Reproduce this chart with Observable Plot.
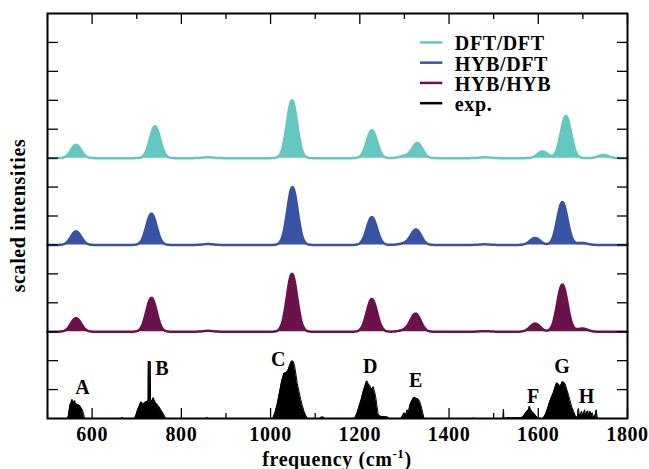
<!DOCTYPE html>
<html><head><meta charset="utf-8">
<script src="https://cdn.jsdelivr.net/npm/d3@7"></script>
<script src="https://cdn.jsdelivr.net/npm/@observablehq/plot@0.6"></script>
<style>
body{margin:0;background:#fff}
#chart svg text{letter-spacing:0.6px}
</style>
</head><body><div id="chart"></div>
<script>
// ---- data ----
const seriesNames = ["DFT/DFT", "HYB/DFT", "HYB/HYB", "exp."];
const seriesColors = ["#64c8c0", "#3953a4", "#6a1249", "#000000"];
const seriesOffsets = [9, 6, 3, 0];

// computed stick spectra (peak position in cm^-1, scaled intensity)
const dftdftFreq = [564, 741, 860, 1048, 1227, 1300, 1329, 1480, 1610, 1662, 1746];
const dftdftInt  = [0.46, 1.10, 0.03, 2.0, 0.97, 0.07, 0.52, 0.03, 0.23, 1.46, 0.11];
const hybdftFreq = [564, 733, 860, 1049, 1227, 1300, 1326, 1480, 1593, 1654, 1698];
const hybdftInt  = [0.47, 1.08, 0.03, 2.0, 0.96, 0.05, 0.53, 0.02, 0.24, 1.48, 0.07];
const hybhybFreq = [564, 733, 860, 1048, 1227, 1300, 1325, 1480, 1593, 1654, 1699];
const hybhybInt  = [0.47, 1.17, 0.03, 2.0, 1.13, 0.05, 0.62, 0.02, 0.28, 1.63, 0.11];
const broadening = 11.5; // gaussian sigma, cm^-1

const expFreq = [500,545,547,550,553,555,557,559,561,563,566,569,572,575,578,581,583,
  666,667,668,695,698,702,706,709,712,715,718,721,724,725.5,726,730.5,731,733,735,737,739,742,746,750,755,760,765,
  856,857,858,1005,1010,1015,1020,1025,1030,1034,1037,1040,1043,1046,1048,1051,1054,1057,1060,1063,1067,1071,1075,1079,1083,
  1110,1113,1118,1122,1188,1193,1198,1203,1207,1211,1214,1216,1219,1222,1225,1228,1230,1232,1235,1238,1241,1245,1255,1262,1266,
  1292,1296,1300,1303,1306,1309,1312,1316,1320,1323,1326,1330,1334,1338,1341,1344,
  1454,1455,1456,1521,1522,1523,1530,1533,1540,1545,1550,1555,1560,1565,1568,1572,1575,1578,1580,1582,1585,1589,1593,1597,1600,
  1610,1615,1620,1625,1630,1634,1638,1641,1645,1649,1653,1656,1660,1664,1668,1671,1675,1679,1683,1687,1688,1690,1692,1695,1697,1699,
  1702,1704,1706,1709,1711,1713,1716,1718,1721,1723,1727,1730,1732,1735,1800];
const expInt = [0,0,0.1,0.45,0.55,0.66,0.6,0.55,0.62,0.5,0.5,0.47,0.45,0.38,0.3,0.15,0,
  0,0.05,0,0,0.1,0.3,0.45,0.57,0.55,0.5,0.55,0.58,0.6,0.62,1.97,1.97,0.62,0.6,0.65,0.72,0.65,0.55,0.48,0.4,0.28,0.15,0,
  0,0.05,0,0,0.2,0.5,0.9,1.3,1.56,1.58,1.62,1.7,1.85,1.95,1.99,1.97,1.8,1.5,1.2,0.98,0.7,0.45,0.25,0.1,0,
  0,0.04,0.05,0,0,0.15,0.4,0.65,0.9,1.1,1.25,1.3,1.2,1.15,1.02,1.05,1.1,0.98,0.8,0.5,0.15,0.08,0.06,0.05,0,
  0,0.1,0.2,0.1,0.3,0.2,0.45,0.6,0.72,0.73,0.7,0.68,0.6,0.4,0.2,0,
  0,0.03,0,0,0.32,0,0.02,0.03,0.02,0.03,0.02,0.03,0.02,0.05,0.1,0.2,0.25,0.3,0.42,0.35,0.25,0.2,0.12,0.05,0,
  0,0.1,0.3,0.55,0.75,0.9,1.1,1.23,1.2,1.09,1.25,1.27,1.2,1.0,0.8,0.63,0.4,0.25,0.1,0.03,0.1,0.35,0.1,0.15,0.25,0.12,
  0.2,0.3,0.12,0.22,0.27,0.1,0.25,0.15,0.2,0.05,0.1,0.3,0.05,0,0];

// peak labels of the experimental spectrum
const peakLetters = ["A","B","C","D","E","F","G","H"];
const peakLabelFreq = [579, 757, 1018, 1224, 1326, 1589, 1654, 1709];
const peakLabelY = [1.07, 1.73, 2.05, 1.79, 1.30, 0.75, 1.80, 0.75];

// axis ticks
const xMajorTicks = [600, 800, 1000, 1200, 1400, 1600, 1800];
const xMinorTicks = [500, 700, 900, 1100, 1300, 1500, 1700];
const yTicks = [1,2,3,4,5,6,7,8,9,10,11,12,13];

// ---- build tables ----
function broaden(freqs, ints, offset, name) {
  const rows = [];
  for (let f = 500; f <= 1800; f += 1) {
    let v = 0;
    for (let i = 0; i < freqs.length; i++) {
      const d = (f - freqs[i]) / broadening;
      v += ints[i] * Math.exp(-0.5 * d * d);
    }
    rows.push({series: name, f, base: offset, v: offset + v});
  }
  return rows;
}
const calc = [
  broaden(dftdftFreq, dftdftInt, seriesOffsets[0], seriesNames[0]),
  broaden(hybdftFreq, hybdftInt, seriesOffsets[1], seriesNames[1]),
  broaden(hybhybFreq, hybhybInt, seriesOffsets[2], seriesNames[2])
];
const expRows = expFreq.map((f, i) => ({f, v: expInt[i]}));
const peaks = peakLetters.map((t, i) => ({t, f: peakLabelFreq[i], y: peakLabelY[i]}));

// legend layout (data units of the frame)
const legX1 = 1336, legX2 = 1386, legTextX = 1413, legTop = 13.0, legStep = 0.7;
const legend = seriesNames.map((n, i) => ({n, c: seriesColors[i], y: legTop - i * legStep}));

const font = "'Liberation Serif', 'Times New Roman', serif";
const fs = 20;
const marks = [];
calc.forEach((rows, i) => {
  marks.push(Plot.areaY(rows, {x: "f", y1: "base", y2: "v", fill: seriesColors[i]}));
  marks.push(Plot.line(rows, {x: "f", y: "v", stroke: seriesColors[i], strokeWidth: 2.5}));
});
marks.push(Plot.areaY(expRows, {x: "f", y1: 0, y2: "v", fill: "#000"}));
marks.push(Plot.line(expRows, {x: "f", y: "v", stroke: "#000", strokeWidth: 1}));
marks.push(Plot.text(peaks, {x: "f", y: "y", text: "t", fontSize: fs, fontWeight: "bold", lineAnchor: "middle", fill: "#000"}));
// legend
marks.push(Plot.ruleY(legend, {y: "y", x1: legX1, x2: legX2, stroke: "c", strokeWidth: 2.5}));
marks.push(Plot.text(legend, {y: "y", x: legTextX, text: "n", textAnchor: "start", lineAnchor: "middle", dy: 1.5, fontSize: fs, fontWeight: "bold", fill: "#000"}));
// axes
marks.push(Plot.axisX({anchor: "bottom", ticks: xMajorTicks, tickSize: 0, tickPadding: 8, tickFormat: d => String(d), label: null, fontSize: fs, fontWeight: "bold", fill: "#000"}));
marks.push(Plot.axisX({anchor: "bottom", ticks: xMajorTicks, tickSize: -10, tickFormat: () => "", label: null, strokeWidth: 1.3}));
marks.push(Plot.axisX({anchor: "bottom", ticks: xMinorTicks, tickSize: -5, tickFormat: () => "", label: null, strokeWidth: 1.3}));
marks.push(Plot.axisX({anchor: "top", ticks: xMajorTicks, tickSize: -10, tickFormat: () => "", label: null, strokeWidth: 1.3}));
marks.push(Plot.axisX({anchor: "top", ticks: xMinorTicks, tickSize: -5, tickFormat: () => "", label: null, strokeWidth: 1.3}));
marks.push(Plot.axisY({anchor: "left", ticks: yTicks, tickSize: -11, tickFormat: () => "", label: null, strokeWidth: 1.3}));
marks.push(Plot.axisY({anchor: "right", ticks: yTicks, tickSize: -11, tickFormat: () => "", label: null, strokeWidth: 1.3}));
marks.push(Plot.frame({stroke: "#000", strokeWidth: 2}));

const W = 649, H = 469, mL = 47, mR = 22, mT = 13, mB = 51;
const chart = Plot.plot({
  width: W, height: H,
  marginLeft: mL, marginRight: mR, marginTop: mT, marginBottom: mB,
  x: {domain: [500, 1800]},
  y: {domain: [0, 14]},
  style: {fontFamily: font, fontWeight: "bold", fontSize: fs + "px", color: "#000", background: "#fff", overflow: "visible"},
  marks
});
document.getElementById("chart").appendChild(chart);

// axis titles
const svg = d3.select(chart);
const xl = svg.append("text")
  .attr("x", mL + (W - mL - mR) / 2).attr("y", 466)
  .attr("text-anchor", "middle")
  .attr("font-family", font).attr("font-weight", "bold").attr("font-size", fs).attr("fill", "#000");
xl.append("tspan").text("frequency (cm");
xl.append("tspan").text("-1").attr("font-size", 13).attr("dy", -8);
xl.append("tspan").text(")").attr("dy", 8);
svg.append("text")
  .attr("transform", `translate(25,${mT + (H - mT - mB) / 2}) rotate(-90)`)
  .attr("text-anchor", "middle")
  .attr("font-family", font).attr("font-weight", "bold").attr("font-size", fs).attr("fill", "#000")
  .text("scaled intensities");
</script>
</body></html>
